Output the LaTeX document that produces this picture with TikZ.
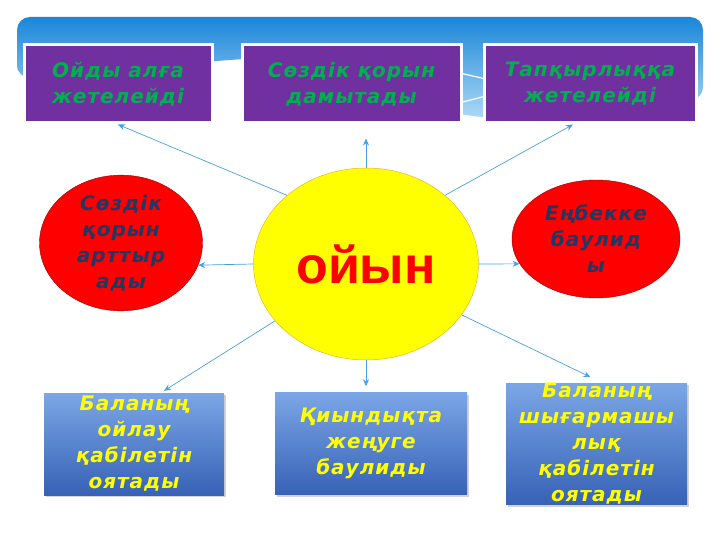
\documentclass[tikz,border=0pt]{standalone}
\usepackage{fontspec}
\usepackage{xcolor}
\usepackage{tikz}
\usetikzlibrary{arrows.meta,shapes.geometric,shadows,calc}
\newfontfamily\kzfont[LetterSpace=5]{DejaVu Sans}
\newfontfamily\gamefont{Liberation Sans}
\definecolor{bannertop}{HTML}{1A86D8}
\definecolor{bannerbot}{HTML}{B3DCF7}
\definecolor{purplebox}{HTML}{7030A0}
\definecolor{greentext}{HTML}{00B050}
\definecolor{navytext}{HTML}{1F3864}
\definecolor{redfill}{HTML}{FF0000}
\definecolor{yellowfill}{HTML}{FFFF00}
\definecolor{goldline}{HTML}{E0B830}
\definecolor{blueboxtop}{HTML}{7BA6E6}
\definecolor{blueboxbot}{HTML}{3762B6}
\definecolor{arrowblue}{HTML}{45A2DE}
\tikzset{
  kz/.style={font=\kzfont\bfseries\itshape\fontsize{20}{26}\selectfont, align=center},
  topbox/.style={kz, rectangle, fill=purplebox, draw=white, line width=3pt, text=greentext, minimum width=#1, minimum height=78pt, inner sep=0pt},
  botbox/.style={kz, rectangle, top color=blueboxtop, bottom color=blueboxbot, text=yellowfill, minimum width=#1, minimum height=102pt, inner sep=0pt, drop shadow={opacity=0.35, shadow xshift=2pt, shadow yshift=-2pt}},
  redcirc/.style={kz, ellipse, fill=redfill, draw=red!60!black, line width=0.4pt, text=navytext, inner sep=0pt},
  mainell/.style={ellipse, fill=yellowfill, draw=goldline, line width=0.5pt, minimum width=225pt, minimum height=192pt, inner sep=0pt, text=redfill, font=\gamefont\bfseries\fontsize{52}{60}\selectfont},
  arr/.style={draw=arrowblue, line width=0.7pt, -{Stealth[length=7pt,width=6pt]}},
}
\begin{document}
\begin{tikzpicture}[x=1pt, y=-1pt]
\useasboundingbox (0,0) rectangle (720,540);
\shade[top color=bannertop, bottom color=bannerbot, rounded corners=13pt]
  (17,78) -- (17,17) -- (703,17) -- (703,100)
  .. controls (620,104) and (540,122) .. (470,116)
  .. controls (380,100) and (300,55) .. (230,60)
  .. controls (150,66) and (70,78) .. cycle;
\draw[white, line width=1.2pt] (455,72) -- (486,79);
\draw[white, line width=1.2pt] (455,104) -- (486,96);

\node[topbox=188pt] (t1) at (118,84) {Ойды алға\\жетелейді};
\node[topbox=219pt] (t2) at (351.5,84) {Сөздік қорын\\дамытады};
\node[topbox=212pt] (t3) at (590,84) {Тапқырлыққа\\жетелейді};

\node[mainell] (main) at (366,264) {ойын};

\node[redcirc, minimum width=163pt, minimum height=111pt] (c1) at (121,243) {Сөздік\\қорын\\арттыр\\ады};
\node[redcirc, minimum width=168pt, minimum height=118pt] (c2) at (596,239) {Еңбекке\\баулид\\ы};

\node[botbox=180pt] (b1) at (134,444) {Баланың\\ойлау\\қабілетін\\оятады};
\node[botbox=192pt] (b2) at (371,443.5) {Қиындықта\\жеңуге\\баулиды};
\node[botbox=181pt] (b3) at (596.5,444) {Баланың\\шығармашы\\лық\\қабілетін\\оятады};

\draw[arr] (main.139) -- (t1.south);
\draw[arr, shorten >=14pt] (main.north) -- (main.north |- t2.south);
\draw[arr] (main.41) -- ([xshift=-17pt]t3.south);
\draw[arr] (main.west) -- (c1.-16);
\draw[arr] (main.east) -- (c2.198);
\draw[arr] (main.212) -- ([xshift=30pt,yshift=2pt]b1.north);
\draw[arr, shorten >=6pt] (main.south) -- (main.south |- b2.north);
\draw[arr] (main.-28) -- ([xshift=-6pt,yshift=6pt]b3.north);
\end{tikzpicture}
\end{document}
